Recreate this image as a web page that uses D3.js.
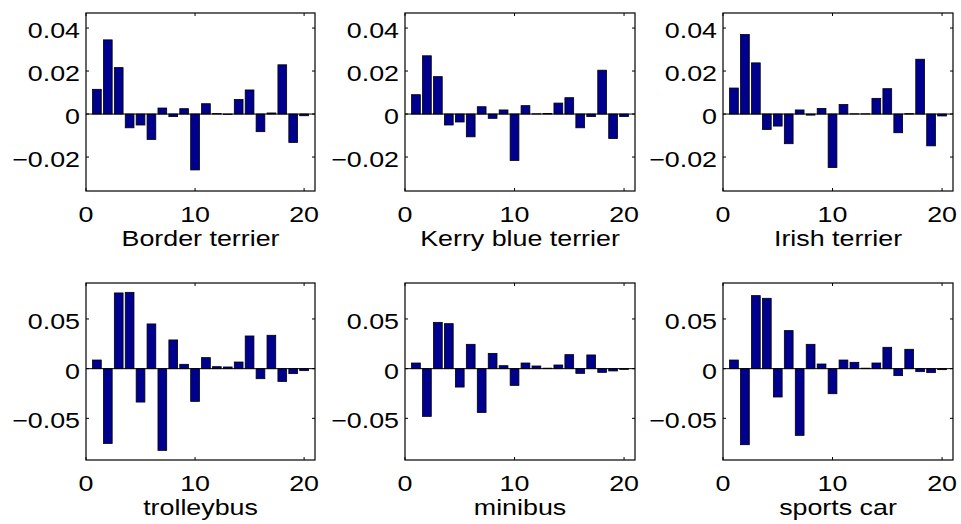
<!DOCTYPE html>
<html>
<head>
<meta charset="utf-8">
<script src="https://cdn.jsdelivr.net/npm/d3@7"></script>
<style>
  body { margin: 0; background: #fff; }
  text { font-family: "Liberation Sans", Arial, sans-serif; fill: #000; }
</style>
</head>
<body>
<svg id="chart" width="961" height="524"></svg>
<script>
const svg = d3.select("#chart");

// bar index 1..20 for every panel
const idx = d3.range(1, 21);

const names = ["Border terrier", "Kerry blue terrier", "Irish terrier", "trolleybus", "minibus", "sports car"];

const borderTerrier = [0.0115, 0.0345, 0.0216, -0.0064, -0.0051, -0.0118, 0.0028, -0.0012, 0.0025, -0.026,
  0.0048, 0.0002, -0.0002, 0.0068, 0.0112, -0.0082, 0.0005, 0.0229, -0.0132, -0.0008];
const kerryBlue = [0.009, 0.0271, 0.0174, -0.0051, -0.0037, -0.0106, 0.0034, -0.002, 0.0019, -0.0216,
  0.0039, 0.0001, 0.0003, 0.0051, 0.0076, -0.0064, -0.0012, 0.0204, -0.0114, -0.0012];
const irishTerrier = [0.0121, 0.037, 0.0238, -0.0072, -0.0056, -0.0138, 0.0019, -0.0005, 0.0026, -0.0249,
  0.0044, 0.0001, 0.0001, 0.0073, 0.0118, -0.0087, 0.0002, 0.0255, -0.0148, -0.0009];
const trolleybus = [0.0087, -0.0752, 0.0762, 0.0768, -0.0336, 0.045, -0.0822, 0.0289, 0.0044, -0.0329,
  0.0111, 0.002, 0.0017, 0.0067, 0.0329, -0.0101, 0.0336, -0.0128, -0.005, -0.002];
const minibus = [0.0057, -0.048, 0.0466, 0.0453, -0.0185, 0.0245, -0.044, 0.0154, 0.003, -0.0168,
  0.0057, 0.0027, 0.0005, 0.0037, 0.0141, -0.0047, 0.0138, -0.0037, -0.0023, -0.0007];
const sportsCar = [0.0087, -0.0765, 0.0735, 0.0708, -0.0285, 0.0383, -0.0671, 0.0245, 0.0047, -0.0252,
  0.0087, 0.0064, 0.0005, 0.0057, 0.0215, -0.007, 0.0195, -0.003, -0.004, -0.001];

const series = [borderTerrier, kerryBlue, irishTerrier, trolleybus, minibus, sportsCar];

const xTicks = [0, 10, 20];
const yTicksTop = [-0.02, 0, 0.02, 0.04];
const yTicksBottom = [-0.05, 0, 0.05];
const yDomainTop = [-0.0358, 0.047];
const yDomainBottom = [-0.0919, 0.0862];

// panel boxes
const cols = [[86, 315], [405, 635], [723, 953]];
const rows = [[13, 191], [283, 460]];

const fmt = d => d === 0 ? "0" : String(d).replace("-", "\u2212");
const sx = 1.22; // the original glyphs are wider than Liberation Sans
const place = (px, py) => `translate(${px},${py}) scale(${sx},1)`;

series.forEach((vals, k) => {
  const r = Math.floor(k / 3), c = k % 3;
  const [x0, x1] = cols[c], [y0, y1] = rows[r];
  const x = d3.scaleLinear().domain([0, 21]).range([x0, x1]);
  const y = d3.scaleLinear().domain(r === 0 ? yDomainTop : yDomainBottom).range([y1, y0]);
  const yt = r === 0 ? yTicksTop : yTicksBottom;
  const g = svg.append("g");
  const bw = 0.8;

  g.selectAll("rect.bar").data(vals).join("rect")
    .attr("class", "bar")
    .attr("x", (d, i) => x(idx[i] - bw / 2))
    .attr("width", x(bw) - x(0))
    .attr("y", d => y(Math.max(0, d)))
    .attr("height", d => Math.abs(y(d) - y(0)))
    .attr("fill", "#00008f")
    .attr("stroke", "#000")
    .attr("stroke-width", 0.8);

  // baseline
  g.append("line")
    .attr("x1", x(0)).attr("x2", x(21))
    .attr("y1", y(0)).attr("y2", y(0))
    .attr("stroke", "#000").attr("stroke-width", 1);

  // box
  g.append("rect")
    .attr("x", x0).attr("y", y0)
    .attr("width", x1 - x0).attr("height", y1 - y0)
    .attr("fill", "none").attr("stroke", "#000").attr("stroke-width", 1.2);

  // inward ticks on all sides
  const tl = 3;
  xTicks.forEach(t => {
    g.append("line").attr("x1", x(t)).attr("x2", x(t)).attr("y1", y1).attr("y2", y1 - tl).attr("stroke", "#000");
    g.append("line").attr("x1", x(t)).attr("x2", x(t)).attr("y1", y0).attr("y2", y0 + tl).attr("stroke", "#000");
  });
  yt.forEach(t => {
    g.append("line").attr("x1", x0).attr("x2", x0 + tl).attr("y1", y(t)).attr("y2", y(t)).attr("stroke", "#000");
    g.append("line").attr("x1", x1).attr("x2", x1 - tl).attr("y1", y(t)).attr("y2", y(t)).attr("stroke", "#000");
  });

  g.selectAll("text.xt").data(xTicks).join("text")
    .attr("class", "xt")
    .attr("transform", d => place(x(d), y1 + 31))
    .attr("text-anchor", "middle")
    .attr("font-size", 22)
    .text(d => d);

  g.selectAll("text.yt").data(yt).join("text")
    .attr("class", "yt")
    .attr("transform", d => place(x0 - 6, y(d) + 10))
    .attr("text-anchor", "end")
    .attr("font-size", 22)
    .text(fmt);

  g.append("text")
    .attr("transform", place((x0 + x1) / 2, y1 + 55))
    .attr("text-anchor", "middle")
    .attr("font-size", 22)
    .text(names[k]);
});
</script>
</body>
</html>
